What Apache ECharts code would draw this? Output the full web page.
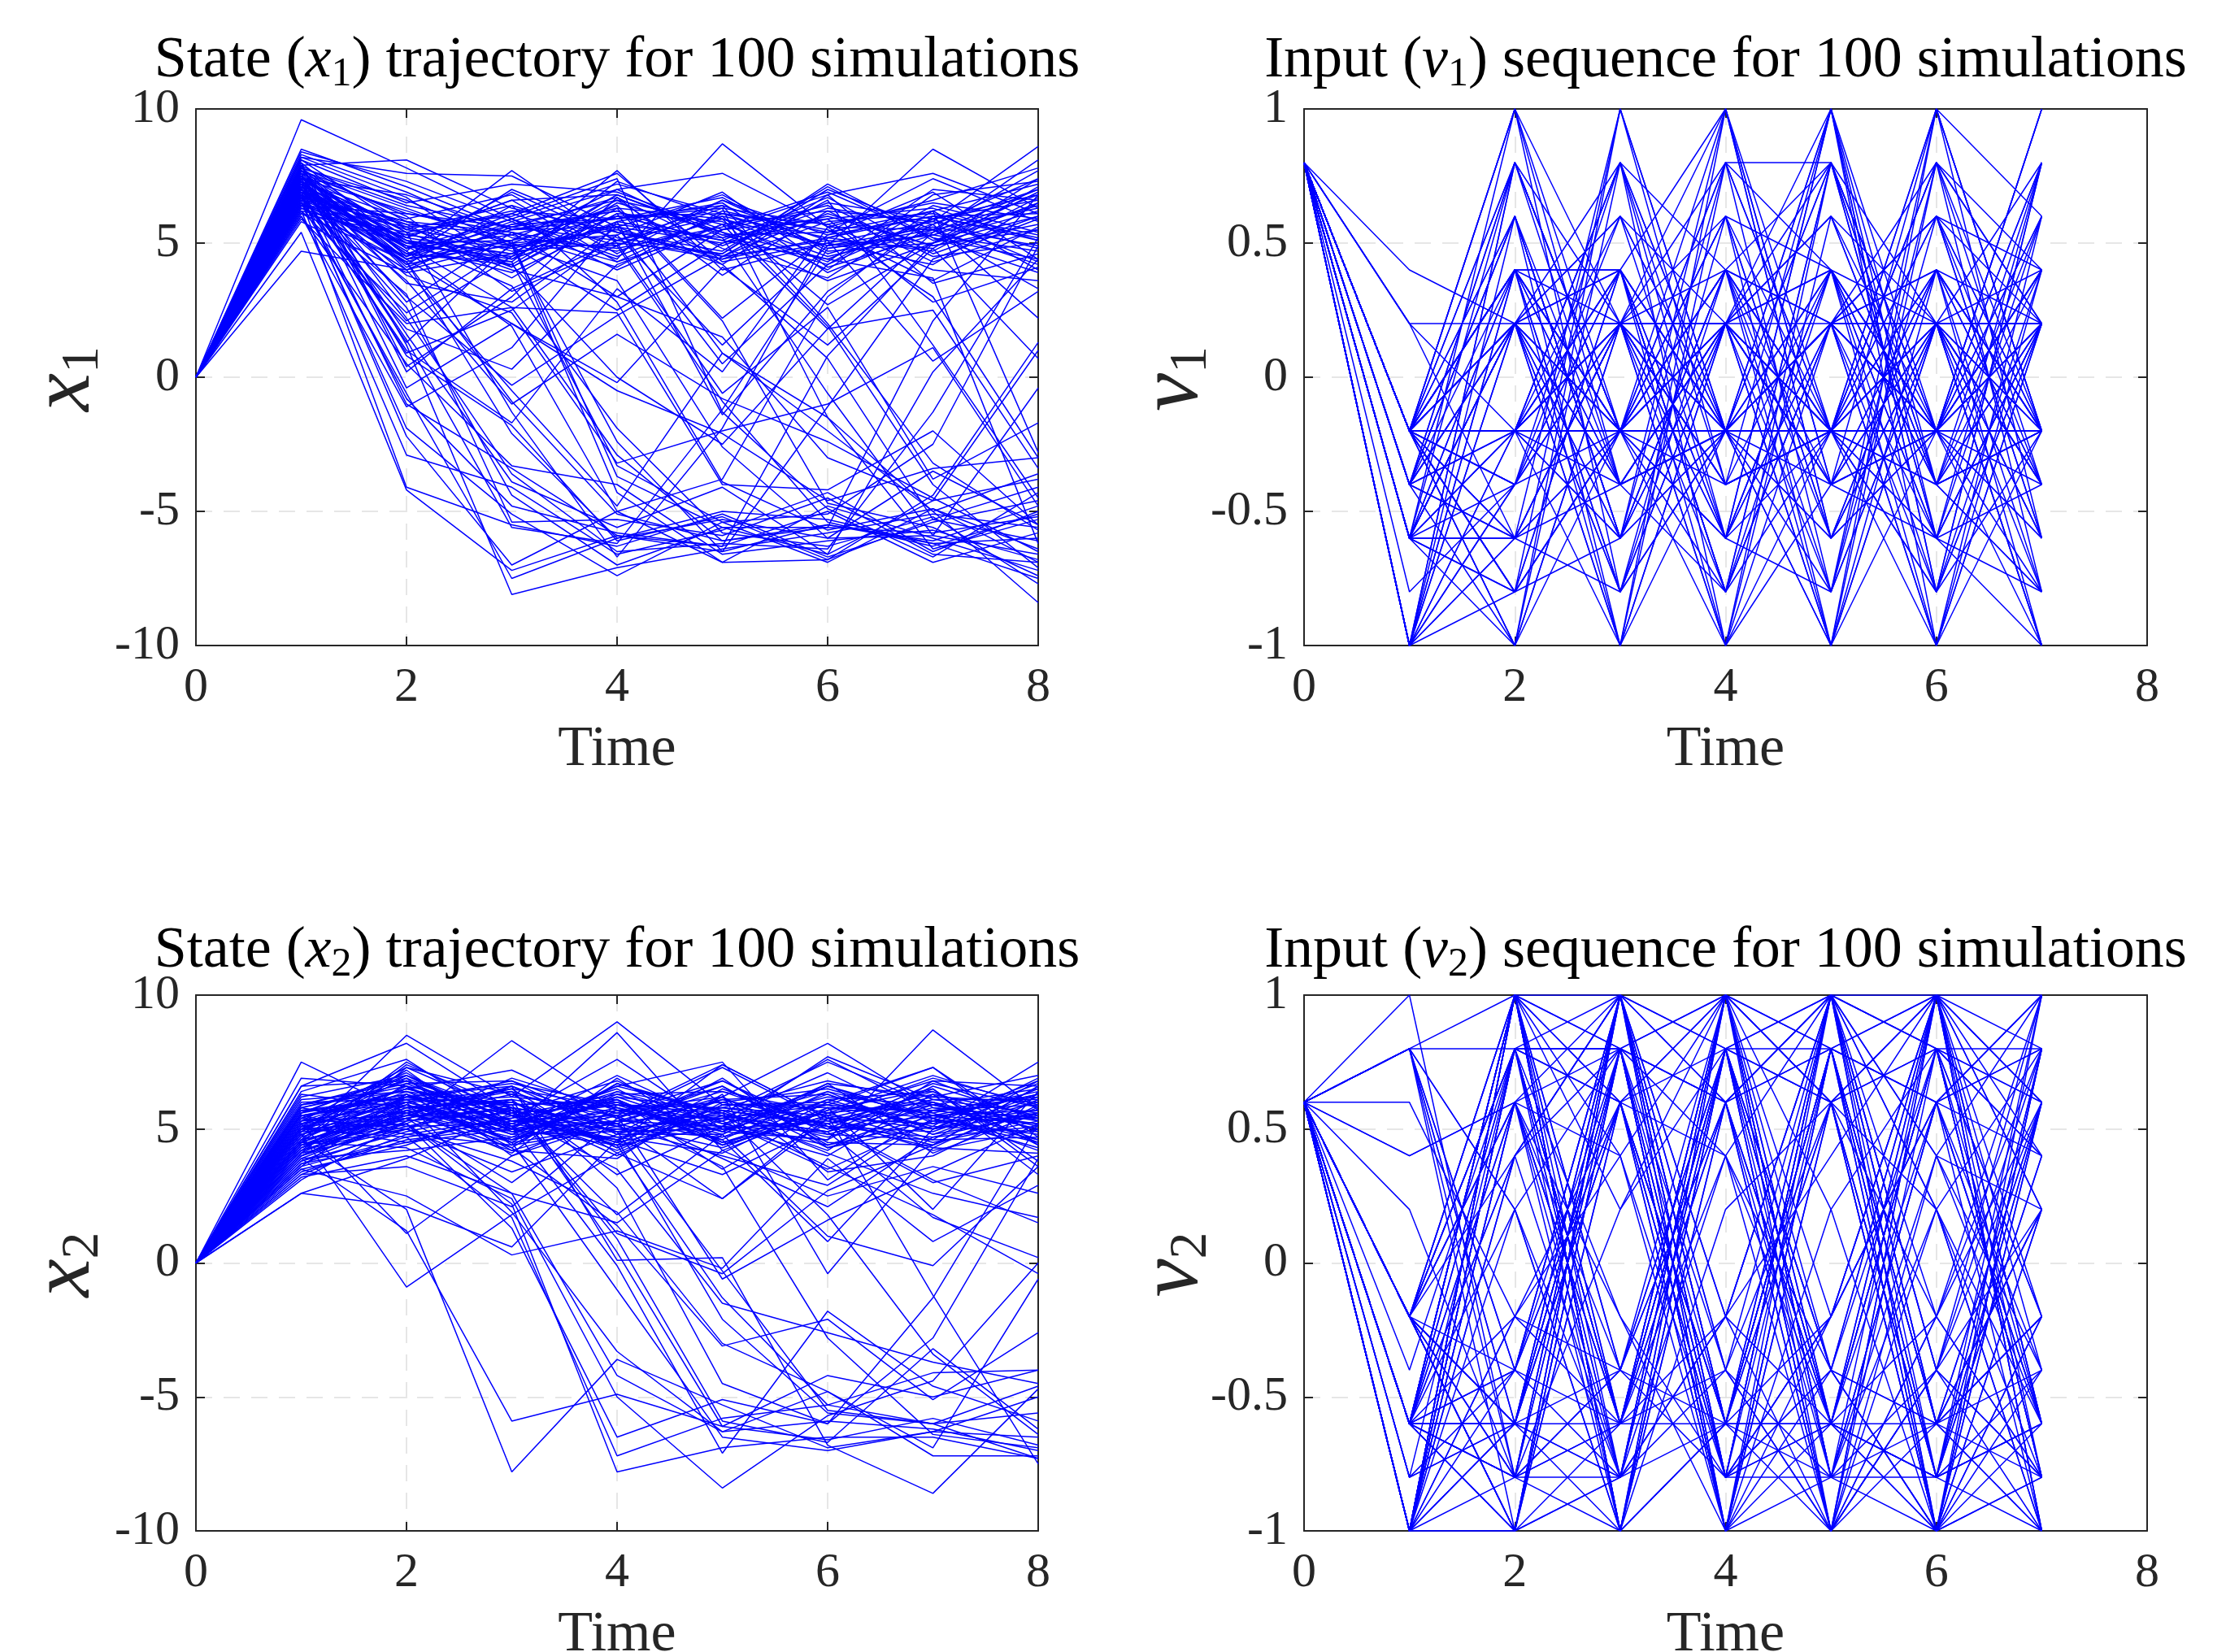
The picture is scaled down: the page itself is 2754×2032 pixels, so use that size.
<!DOCTYPE html>
<html>
<head>
<meta charset="utf-8">
<script src="https://cdn.jsdelivr.net/npm/echarts@6/dist/echarts.min.js"></script>
<style>
html,body{margin:0;padding:0;background:#fff;}
#chart{width:2754px;height:2032px;}
</style>
</head>
<body>
<div id="chart"></div>
<script>
// ---------- data ----------
const timeX = [0,1,2,3,4,5,6,7,8];
const timeNu = [0,1,2,3,4,5,6,7];
const xTicks = [0,2,4,6,8];
const stateTicks = [-10,-5,0,5,10];
const inputTicks = [-1,-0.5,0,0.5,1];

const x1Runs = [
[0,7.2,5.1,4.6,6.8,5.3,4.2,5.9,6.6],[0,6.8,4.3,5.5,5.9,6.4,5.1,4.8,7.1],[0,8.3,6.9,5.2,4.8,5.6,6.9,5.2,4.4],
[0,7.5,4.8,6.9,5.1,4.4,5.8,6.1,5.3],[0,6.4,5.6,4.1,6.3,5.9,4.5,5.4,8.1],[0,9.6,7.8,5.9,7.2,6.1,4.9,5.6,4.9],
[0,7.9,8.1,6.3,5.4,4.7,7.1,5.1,6.2],[0,6.9,4.4,5.1,7.0,5.2,6.0,4.9,5.7],[0,7.3,5.9,6.8,4.6,6.6,5.3,6.9,4.4],
[0,7.6,4.1,5.6,6.2,4.9,6.3,5.7,7.4],[0,6.1,5.3,4.8,5.6,6.8,4.7,5.0,6.9],[0,8.1,6.5,7.2,6.9,5.5,5.9,6.3,5.1],
[0,7.0,4.9,3.9,5.8,5.1,6.7,4.6,6.0],[0,6.6,5.7,5.3,4.1,6.2,5.4,7.4,5.8],[0,7.8,4.5,6.1,7.6,4.3,5.0,5.8,8.6],
[0,7.4,6.2,5.0,5.3,6.9,4.1,5.3,4.7],[0,5.8,3.9,4.6,6.6,5.7,6.2,4.3,5.5],[0,8.4,7.3,5.8,4.4,8.7,5.6,6.6,7.8],
[0,7.1,4.7,7.7,5.0,4.6,7.0,5.5,4.2],[0,6.3,5.0,4.3,7.3,5.9,4.9,8.5,6.3],[0,7.7,6.0,3.2,4.9,6.3,5.7,4.0,3.6],
[0,6.7,2.1,4.5,6.0,5.1,4.4,5.9,6.8],[0,7.2,1.3,5.0,6.4,2.2,5.3,6.0,5.2],[0,8.0,0.4,3.0,6.7,4.8,3.7,6.2,7.2],
[0,6.9,0.9,2.5,5.3,1.2,4.9,5.3,6.4],[0,7.5,2.8,5.4,3.0,5.5,6.8,3.5,4.6],[0,6.5,1.8,0.3,4.2,5.7,1.8,5.4,7.0],
[0,7.3,3.5,2.8,5.6,0.5,4.2,6.4,5.4],[0,6.2,2.4,4.9,2.5,5.0,5.9,2.8,4.1],[0,7.9,0.2,3.3,5.1,6.0,2.7,5.0,6.5],
[0,7.0,3.0,-0.3,2.3,4.5,5.1,0.6,3.2],[0,6.8,1.0,-1.7,3.3,0.2,5.6,3.0,-3.0],[0,7.6,-0.4,2.0,-0.2,4.1,1.2,4.8,0.7],
[0,6.0,-1.1,1.1,5.8,-1.4,3.2,5.7,2.2],[0,7.4,5.4,6.1,4.9,-0.9,-5.4,-6.3,-5.1],[0,7.1,4.8,5.3,6.3,2.1,-4.7,-5.6,-7.4],
[0,6.4,5.2,4.6,5.7,5.2,-0.6,-5.9,-6.6],[0,7.8,6.4,5.6,5.1,6.4,2.0,-3.2,-5.7],[0,8.5,7.1,5.5,6.2,4.5,6.6,1.2,-4.5],
[0,7.2,4.6,5.9,4.5,6.0,5.2,6.2,-2.8],[0,6.7,5.8,4.4,6.8,5.4,4.4,3.7,-6.2],[0,7.5,4.2,6.4,2.8,-3.9,-5.7,-4.9,-6.9],
[0,6.9,5.1,3.4,-1.9,-5.8,-6.3,-5.2,-7.7],[0,7.3,5.6,6.0,7.4,-1.3,-4.9,-6.7,-4.3],[0,8.2,6.7,4.1,6.1,0.9,-2.0,-5.0,-8.4],
[0,6.5,4.0,5.0,3.6,-2.6,-6.0,-3.5,-5.5],[0,7.0,5.3,6.2,5.9,6.3,-1.5,-6.4,-5.3],[0,7.7,4.5,5.7,6.6,4.2,0.7,-5.3,-6.1],
[0,6.3,4.9,2.6,-2.9,-6.1,-5.5,-6.1,-4.8],[0,7.6,6.1,5.4,4.7,5.9,1.9,-4.0,-7.1],[0,6.6,-4.1,-5.5,-6.3,-5.1,-6.7,-5.4,-4.6],
[0,5.4,-4.2,-7.2,-5.9,-6.5,-5.5,-6.2,-7.5],[0,6.2,-2.9,-4.1,-6.6,-5.7,-4.3,-6.5,-5.0],[0,6.8,-1.9,-5.1,-7.4,-5.4,-6.9,-4.9,-6.4],
[0,7.1,-1.0,-3.4,-5.9,-6.3,-5.0,-6.9,-5.8],[0,6.0,0.5,-3.3,-4.0,-6.6,-6.1,-5.7,-6.8],[0,7.4,1.6,-3.9,-5.6,-4.1,-6.6,-4.6,-3.8],
[0,6.5,-0.6,-7.5,-6.0,-5.0,-5.3,-6.2,-6.0],[0,7.9,1.2,-8.1,-7.1,-6.4,-5.8,-5.1,-5.6],[0,6.9,-2.2,-7.0,-5.0,-6.9,-4.8,-6.0,-7.2],
[0,7.3,0.8,-1.8,-6.1,-5.2,-6.8,-5.3,-4.1],[0,6.4,3.1,-5.4,-5.3,-5.9,-4.5,-6.6,-6.9],[0,7.0,2.6,-4.4,-7.0,-5.6,-5.6,-5.8,-5.2],
[0,7.2,1.4,-5.6,-6.2,-1.2,4.8,5.5,6.3],[0,6.7,-0.8,-4.8,-5.8,-6.3,0.8,5.0,7.4],[0,7.5,2.2,-3.6,-6.5,-6.2,-6.4,-1.3,5.2],
[0,6.1,4.3,-0.9,-5.1,-6.1,-5.6,2.1,6.8],[0,8.1,5.5,4.9,-2.4,-6.5,-1.1,4.4,5.9],[0,7.0,4.7,1.9,-5.0,-3.8,3.0,6.0,5.1],
[0,6.8,5.0,5.1,-3.7,-5.6,-6.6,0.2,4.4],[0,7.6,5.4,-1.3,-6.7,-1.9,5.2,4.7,6.7],[0,6.3,4.3,-2.1,-6.0,-5.3,-6.0,-5.9,-0.4],
[0,7.8,6.6,5.0,-4.3,-6.9,-6.8,-4.4,1.3],[0,7.3,4.6,4.3,-3.3,-5.4,-5.1,-2.5,4.9],[0,6.6,4.4,2.0,-0.5,-2.1,-4.6,-3.4,-3.0],
[0,7.1,3.8,2.4,-3.2,-2.0,-1.0,1.1,-4.8],[0,5.9,2.0,2.6,2.4,-4.0,-4.2,-2.0,-5.5],[0,7.9,5.8,4.7,5.0,-0.6,2.6,-3.8,-1.7],
[0,6.9,3.6,-1.0,1.6,-0.8,-2.4,-4.5,-6.5],[0,7.4,5.1,4.2,0.0,-2.5,1.8,2.5,-3.4],[0,7.7,4.0,-0.5,-4.8,0.9,-1.5,-5.0,-3.6],
[0,6.2,5.4,4.0,3.0,1.5,-3.0,-4.6,1.0],[0,7.2,4.4,4.9,5.5,4.4,5.2,6.0,6.1],[0,6.9,5.8,5.4,4.3,5.5,6.4,4.5,5.0],
[0,7.5,5.0,4.4,5.8,6.5,3.9,5.5,7.7],[0,6.4,6.1,5.6,6.7,3.8,6.2,5.8,4.8],[0,8.0,4.8,5.9,4.0,5.7,4.3,7.0,6.6],
[0,7.0,4.2,5.1,6.0,6.1,5.5,3.6,5.6],[0,6.8,5.5,6.4,5.2,4.6,7.2,5.2,3.9],[0,7.3,4.6,4.2,6.5,5.4,3.6,5.0,6.0],
[0,4.7,4.0,5.7,5.9,6.7,4.6,5.7,7.0],[0,7.8,5.2,6.6,4.3,6.1,5.7,6.5,5.9],[0,6.7,4.9,4.5,7.7,4.0,5.0,4.2,6.5],
[0,7.4,6.8,5.5,5.6,5.0,6.5,5.9,4.3],[0,7.1,5.7,3.7,6.1,5.8,4.0,6.8,7.3],[0,6.5,4.5,7.0,5.4,4.5,6.1,4.9,5.5],
[0,7.7,6.3,4.9,4.9,6.6,4.8,5.3,6.8],[0,6.6,5.2,6.6,6.8,5.3,5.4,6.2,4.0],[0,8.2,7.6,7.5,5.6,4.2,6.8,7.6,6.1],
[0,7.5,4.4,5.8,7.0,7.6,5.6,5.5,3.3]
];

const x2Runs = [
[0,4.8,6.2,5.3,5.9,4.7,6.1,5.0,5.6],[0,5.3,5.5,6.6,4.8,5.8,5.2,6.4,4.9],[0,4.1,5.9,4.6,6.3,5.2,4.4,5.7,6.2],
[0,5.9,6.8,5.0,5.3,6.4,5.6,4.5,5.3],[0,3.8,4.9,5.7,4.4,5.1,6.6,5.3,6.8],[0,7.5,5.6,4.3,6.7,5.5,4.9,6.0,5.1],
[0,4.5,7.4,5.8,5.2,4.3,5.8,5.4,4.5],[0,5.0,5.2,6.9,5.7,6.0,5.0,6.7,5.8],[0,3.4,4.6,5.1,6.0,4.9,6.3,4.8,5.5],
[0,6.1,6.4,4.8,4.9,5.6,4.7,5.9,6.5],[0,4.4,5.0,6.1,5.5,7.4,5.4,4.2,5.0],[0,5.6,7.0,5.5,4.5,5.3,7.6,5.6,4.2],
[0,4.0,5.7,4.1,6.9,4.4,5.5,6.9,5.9],[0,5.2,6.1,6.4,5.1,6.2,4.3,5.1,7.5],[0,3.1,5.3,5.6,4.2,5.9,5.9,4.6,4.7],
[0,4.7,8.5,6.2,5.8,4.6,6.4,5.5,5.2],[0,5.5,4.8,5.4,7.6,5.0,5.3,6.2,6.0],[0,6.9,6.6,4.9,5.6,6.8,4.8,5.8,5.4],
[0,4.3,5.8,6.0,4.7,4.1,6.0,7.3,4.4],[0,3.6,6.3,5.2,6.4,5.7,5.1,4.9,6.3],[0,4.9,7.2,4.4,5.0,5.4,7.1,5.2,5.7],
[0,5.8,5.1,5.9,6.1,4.5,5.7,6.5,3.8],[0,4.2,6.7,6.8,5.4,6.6,4.5,4.4,6.6],[0,5.1,4.5,5.0,7.0,5.2,6.2,5.9,5.0],
[0,2.6,3.9,5.6,4.6,6.1,5.2,6.1,6.1],[0,4.6,5.4,3.0,5.9,5.3,3.5,5.3,4.8],[0,5.4,6.5,5.7,1.8,4.8,6.7,4.1,5.6],
[0,3.9,4.2,4.7,5.2,2.4,5.4,6.3,3.3],[0,4.5,6.0,5.1,6.6,7.5,3.1,5.7,5.9],[0,5.7,5.6,6.5,4.1,5.9,5.8,2.0,6.4],
[0,4.0,5.2,2.6,1.5,4.2,2.5,3.6,2.6],[0,5.0,6.9,5.3,5.5,-0.6,1.6,3.4,5.2],[0,3.3,3.6,2.1,5.4,4.6,0.8,5.0,6.9],
[0,6.3,5.8,6.1,3.3,5.1,4.9,1.7,0.2],[0,4.6,6.3,4.2,3.9,6.3,-0.4,4.3,4.1],[0,2.6,2.1,0.6,4.6,3.3,5.2,3.1,1.5],
[0,5.2,1.1,4.0,5.7,3.9,2.1,4.7,5.6],[0,4.8,-0.9,1.8,4.1,2.4,5.6,6.0,4.5],[0,3.5,2.5,0.3,1.2,-0.2,3.9,0.8,2.9],
[0,5.9,6.4,5.9,1.1,-0.4,2.7,4.4,5.8],[0,4.4,5.7,4.9,5.8,4.8,1.0,-0.1,3.6],[0,5.3,7.3,6.3,4.3,5.5,3.6,1.8,-0.4],
[0,4.2,5.5,5.4,6.2,5.7,4.1,2.6,1.7],[0,6.0,6.1,4.5,5.1,4.0,2.9,5.4,6.3],[0,3.7,5.0,3.4,4.8,6.9,4.3,5.5,4.6],
[0,5.5,6.0,1.9,-3.3,-6.3,-5.9,-6.2,-7.0],[0,4.3,5.6,6.1,0.4,-6.1,-6.6,-5.8,-6.8],[0,6.2,7.0,5.3,4.6,-2.1,-5.6,-6.0,-4.6],
[0,4.9,5.2,2.2,-7.8,-6.9,-6.5,-6.5,-7.3],[0,3.9,1.2,-5.9,-4.9,-6.1,-4.2,-5.0,-4.0],[0,4.6,2.0,-7.8,-3.6,-5.3,-6.9,-6.3,-6.5],
[0,5.8,6.6,4.5,-1.0,-6.5,-7.0,-6.3,-5.0],[0,5.1,5.4,6.0,4.9,-0.3,-5.5,-6.0,-7.3],[0,4.0,5.8,4.6,5.5,3.6,-2.8,-6.4,-6.9],
[0,5.4,6.8,5.6,5.9,5.6,1.8,-3.4,-6.4],[0,4.7,5.9,4.8,6.1,4.4,5.5,-1.2,-7.5],[0,3.6,4.7,1.7,-7.2,-5.8,-5.3,-6.0,-5.6],
[0,5.0,5.3,5.8,0.9,-5.9,-6.7,-3.2,-6.2],[0,6.4,7.6,5.1,-0.1,-7.1,-1.8,-4.6,-5.9],[0,4.5,4.3,2.4,-5.0,-8.4,-5.7,-4.4,0.0],
[0,5.7,6.2,6.6,0.1,0.2,-6.8,-8.6,-4.7],[0,4.1,5.0,3.8,1.9,-3.0,-4.8,-7.2,-7.2],[0,5.2,6.5,5.5,3.5,-1.5,-2.6,-3.7,-4.5],
[0,3.2,4.0,2.6,-4.2,-6.3,-4.8,-6.9,-0.6],[0,4.8,5.7,6.4,2.8,-4.5,-6.0,-1.3,5.2],[0,5.6,6.3,4.3,1.4,-3.1,-2.1,-5.1,-2.6],
[0,4.4,5.2,1.3,-6.5,-5.1,-6.0,-2.8,3.9],[0,5.1,6.0,5.0,4.4,-1.3,-5.3,-4.1,-4.0],[0,4.9,6.6,5.8,5.1,6.1,6.3,5.0,6.0],
[0,5.2,5.6,4.7,6.2,4.9,4.6,6.6,5.4],[0,3.9,5.4,6.3,5.6,5.4,5.9,5.6,6.4],[0,4.6,7.5,5.5,4.4,6.5,5.1,4.7,5.1],
[0,5.5,6.2,6.7,5.9,5.8,6.8,6.0,4.6],[0,4.2,5.1,5.2,6.5,4.5,5.4,5.2,6.7],[0,5.9,6.9,4.0,5.3,5.1,4.0,6.3,5.5],
[0,3.5,4.4,5.8,4.0,6.0,6.5,5.4,4.3],[0,4.4,5.9,5.0,8.6,4.2,5.7,7.0,5.8],[0,5.3,6.5,7.2,5.4,7.3,5.3,4.3,6.1],
[0,4.0,5.6,4.5,6.7,5.6,7.5,5.9,5.3],[0,6.6,8.2,5.7,4.9,5.0,4.6,8.7,5.7],[0,4.7,6.0,6.2,9.0,5.9,6.0,5.1,4.9],
[0,5.0,4.7,5.3,5.0,4.7,5.6,6.8,6.6],[0,3.8,5.3,8.3,5.7,6.2,8.2,5.8,5.4],[0,5.6,7.1,4.9,4.7,5.4,4.8,4.6,6.8],
[0,4.3,6.2,5.9,6.0,4.4,6.1,6.4,4.4],[0,5.4,5.0,6.6,5.2,6.8,5.0,5.5,5.7],[0,3.3,4.8,4.4,6.4,5.3,6.4,4.8,6.2],
[0,5.8,6.7,5.2,4.6,5.7,5.2,5.9,5.0],[0,4.5,5.8,6.5,5.8,4.9,6.7,6.2,7.0],[0,5.0,6.4,5.3,5.2,6.6,4.4,5.3,5.4],
[0,4.1,7.3,5.6,6.8,5.0,5.9,7.3,4.7],[0,5.3,5.9,4.6,5.5,5.8,5.5,5.0,6.5],[0,4.8,6.1,6.0,4.3,6.2,3.4,4.0,5.9],
[0,6.6,6.8,5.1,6.1,3.5,5.8,5.7,5.2],[0,4.2,5.4,4.2,5.3,5.5,4.9,6.5,3.6],[0,5.7,6.0,6.8,4.8,4.8,6.6,5.5,6.3],
[0,3.7,4.5,5.5,6.3,6.4,5.1,3.0,4.0],[0,5.1,7.0,5.0,5.7,5.1,7.7,6.1,5.6],[0,4.6,5.5,5.7,4.5,7.4,5.4,4.4,6.6],
[0,5.5,6.3,4.8,6.6,5.6,4.2,6.8,5.3]
];

const nu1Runs = [
[.8,-.2,-.2,.4,-.2,1,-1,.2],[.8,-.2,.4,.4,-.8,-.2,.2,.2],[.8,-.6,.2,-1,1,-.4,-.2,.8],[.8,-.2,-.2,-.2,.2,.8,-.6,-.4],
[.8,-1,.8,-.4,-.2,-1,1,-.2],[.8,-.4,-1,.8,-.6,.4,-.2,-1],[.8,-.2,.2,.2,.2,-.2,.6,.2],[.8,-.6,-.6,-.2,.4,-.8,.2,-.8],
[.8,-.2,-.8,1,-.2,.2,-1,.6],[.8,-1,.6,-.6,.8,-.2,-.4,-.2],[.8,.2,-.2,.2,-1,.8,.2,-.6],[.8,-.2,.4,-.8,-.2,.2,-.2,1],
[.8,-.4,-.2,-.2,-.2,-.2,-.2,-.2],[.8,-.6,.2,.4,-.6,1,-.8,.4],[.8,-.2,-.6,.2,1,-.6,.4,-.8],[.8,-1,-.2,-1,.2,-.2,.8,-.2],
[.8,-.2,1,-.2,-.8,.4,-.4,.2],[.8,-.4,.4,-.4,.2,-.4,.2,-1],[.8,-.2,-.2,.8,-.4,-.2,-.6,.8],[.8,-.6,-.4,-.2,.6,-1,.4,-.4],
[.8,.4,.2,-.6,-.2,.2,-.2,.2],[.8,-.2,.8,.2,-1,-.2,1,-.6],[.8,-.2,-1,-.2,.4,.8,-.2,.2],[.8,-1,.2,-.4,-.2,.4,-.6,.6],
[.8,-.6,-.8,.4,-.8,.2,.6,-.2],[.8,-.2,.2,-.2,.8,-.8,.2,-.4],[.8,-.4,.6,-1,-.2,.2,-1,.4],[.8,-.2,-.4,.4,-.2,-.6,.2,-.2],
[.8,.2,-.6,-.2,.2,1,-.4,-.8],[.8,-.2,.2,-.8,.4,-.2,.8,.2],[.8,-1,-.6,.2,-.4,.4,-.2,1],[.8,-.6,.4,.2,-.6,-.2,.4,-.2],
[.8,-.2,-.2,-.6,1,-.4,-.2,-.6],[.8,-.4,.2,.6,-.2,.2,-.8,.2],[.8,-.2,-1,.2,.2,-.2,.2,-.4],[.8,-.6,.8,-.2,-.2,.8,-.4,.8],
[.8,-.2,-.2,.4,-.6,.4,-.6,-1],[.8,-1,.4,-.2,.2,-1,.2,.2],[.8,-.2,.2,-.4,.2,.2,.2,.2],[.8,-.4,-.6,1,-.4,-.2,.6,-.2],
[.8,-.2,.6,-.6,.4,-.6,-.2,.4],[.8,-.6,-.2,.8,-1,.6,-.4,-.8],[.8,-.2,.4,-.2,.6,-.2,1,-.2],[.8,-1,-.2,.2,-.2,.2,-.2,.6],
[.8,-.2,-.8,-.6,.2,-.4,.4,-.4],[.8,-.4,.2,.2,-.8,.8,-.6,.2],[.8,-.6,1,-.8,.2,-.2,-.2,-.6],[.8,-.2,-.2,.2,-.2,-.8,.8,.4],
[.8,-.2,.4,-1,.8,.4,-1,-.2],[.8,-1,-.4,.6,-.6,.2,.2,.8],[.8,-.2,.2,-.2,-.2,1,-.2,-.4],[.8,-.6,-.6,.2,.4,-.4,.4,.2],
[.8,-.4,.8,-.2,-.4,-.2,-.8,-.2],[.8,-.2,-.2,-.6,.2,.6,-.2,.4],[.8,-.2,.2,.8,-.2,-.6,.2,-1],[.8,-1,-.8,-.2,1,-.2,-.4,.2],
[.8,-.6,.4,-.4,-.8,.2,.6,-.6],[.8,-.2,-.4,.2,.2,-1,-.2,.8],[.8,.2,.2,-.2,-.6,.4,.2,-.2],[.8,-.2,-1,1,-.2,.2,-.6,.2],
[.8,-.4,.6,-.6,.4,-.2,.2,-.4],[.8,-.2,-.2,-.2,-.2,.8,-.4,.6],[.8,-.6,.2,.4,-1,-.4,1,-.2],[.8,-.2,.8,-.2,.2,-.2,-.2,-.8],
[.8,-1,-.6,.2,-.4,1,-.8,.2],[.8,-.2,.4,-.8,.6,-.6,.4,-.2],[.8,-.2,-.2,.6,-.2,.2,-.2,1],[.8,-.6,-.8,-.2,.8,-.2,.2,-.6],
[.8,-.4,.2,.2,-.6,-.8,.6,.4],[.8,-.2,-.6,-.4,.2,.4,-.2,-.2],[.8,-.2,1,.2,-.2,-.2,-1,.2],[.8,-1,.2,-.6,.4,.2,.8,-.4],
[.8,-.6,-.2,.4,-.8,.8,-.2,.6],[.8,-.2,.4,-.2,.2,-.4,.2,-.2],[.8,-.8,-.4,.8,-.2,-.2,-.6,.2],[.8,-.2,-.2,-.2,.4,.2,.4,-1],
[.8,-.4,.6,-.4,-.2,-1,.2,.4],[.8,-.6,-1,.2,.6,.4,-.4,-.2],[.8,-.2,.2,-.8,-.2,.2,.6,-.6],[.8,-.2,-.8,.4,1,-.6,-.2,.2],
[.8,-1,.8,-.2,-.6,.2,-.2,-.2],[.8,-.6,-.2,.2,.2,-.2,-.8,.8],[.8,-.2,.2,-1,.2,.6,.2,-.4],[.8,-.4,-.6,.2,-.4,-.2,.8,.2],
[.8,-.2,.4,.4,-.2,-.4,-.6,-.8],[.8,-.2,-.2,.2,.8,.8,-.2,.4],[.8,-.6,.2,-.2,-1,.2,.4,-.2],[.8,-1,-.4,.2,.2,-.8,1,.6],
[.8,-.2,.6,-.6,-.2,.4,-.4,-.2],[.8,-.4,-.2,.8,.4,-.2,.2,-1],[.8,-.2,-.8,-.2,-.6,1,-.6,.2],[.8,-.6,.2,.6,.2,-.4,-.2,.4],
[.8,-.2,1,-.4,-.2,.2,.6,-.4],[.8,-.2,-.2,.2,-.2,-.2,-.2,.2],[.8,-1,.4,-.2,.6,-.6,.2,-.6],[.8,-.2,-.6,-.8,.2,.4,-.8,.8],
[.8,-.6,.2,.2,-.4,-.2,.4,-.2],[.8,-.2,-.4,.4,-.8,.2,-.2,.2],[.8,-.4,.8,-.2,.4,-1,.8,-.8],[.8,-.2,-.2,-.4,.2,.6,-.4,.4]
];

const nu2Runs = [
[.6,-.6,1,-1,.8,-.6,1,-.8],[.6,-.2,-.8,1,-.6,1,-1,.6],[.6,-1,.8,-.6,1,-1,.8,-.2],[.6,.8,-.6,.8,-1,.6,-.8,1],
[.6,-.6,-1,1,-.8,1,-.6,.2],[.6,-.2,.6,-.8,.8,-.4,1,-.6],[.6,-1,1,-.4,-.6,.8,-1,.8],[.6,-.6,-.4,.8,1,-.8,.6,-1],
[.6,.8,.8,-1,.6,-.6,-.8,.4],[.6,-.2,-.6,1,-.2,1,-.4,-.8],[.6,-1,-1,.6,-1,.8,1,-.6],[.6,-.6,1,-.6,.8,-1,-.2,1],
[.6,1,-.8,-.8,1,.2,-1,.6],[.6,-.2,.4,1,-.8,-.6,.8,-.6],[.6,-.6,-.6,-1,.6,1,-.6,-.2],[.6,-1,.8,.8,-.4,-.8,.2,.8],
[.6,.6,-.2,-.6,1,.6,-.8,-1],[.6,-.6,1,.4,-.8,-.2,1,.2],[.6,-.2,-1,.8,.6,-1,-.4,1],[.6,-1,.2,-.8,-.2,1,.8,-.8],
[.6,.8,-.4,1,-1,.8,-.6,.6],[.6,-.6,.8,-.6,.8,-.6,-1,-.4],[.6,-.2,-.6,.6,-.6,.8,.6,-.6],[.6,-1,1,-1,1,-.8,-.8,.4],
[.6,-.6,-.8,.8,.4,-.4,1,-1],[.6,.4,.6,-.2,-.8,1,-.2,.8],[.6,-.2,-1,1,-.6,-.6,.8,-.2],[.6,-1,.4,-.8,.8,.6,-1,.2],
[.6,-.6,1,.8,-1,-.8,.4,1],[.6,-.8,-.6,-.4,.6,1,-.6,-.8],[.6,.2,-.8,1,-.2,-1,1,-.6],[.6,-.2,.8,-.6,1,.8,-.8,.6],
[.6,-1,-.4,.6,-.6,-.2,.6,-.4],[.6,-.6,.2,-1,.8,-.6,-1,.8],[.6,.8,-1,.8,-.8,1,.2,-.8],[.6,-.6,.6,.4,1,-.4,-.6,.2],
[.6,-.2,-.6,-.8,-.4,.6,1,-1],[.6,-1,1,.6,-.6,-1,-.2,.6],[.6,-.6,-.8,-.6,.8,.8,-.8,-.6],[.6,-.2,.8,1,-1,-.6,.8,.4],
[.6,-1,-.2,-.4,.6,1,-.4,-.8],[.6,.8,-.6,.8,-.8,-.8,1,1],[.6,-.6,1,-1,.2,.6,-1,-.2],[.6,-.2,-1,.6,1,-.2,.6,-.6],
[.6,-1,.6,-.6,-.6,.8,-.8,.8],[.6,-.6,-.4,1,.8,-1,.2,-1],[.6,-.8,.8,-.2,-1,.6,1,.6],[.6,-.2,-.8,.8,.6,-.6,-.6,-.4],
[.6,-1,1,-.8,-.2,1,.8,-.8],[.6,-.6,-.6,.6,.8,-.4,-1,.2],[.6,.8,.2,-1,-.6,.8,.6,1],[.6,-.2,1,.8,-.8,-.6,-.8,-.6],
[.6,-1,-.8,-.4,1,.6,1,-.2],[.6,-.6,.4,1,-.4,-1,-.4,.8],[.6,-.2,-.6,-.6,.6,.8,-.6,-1],[.6,-1,.8,.8,-1,.2,.8,.6],
[.6,-.6,-1,-.8,.8,-.8,-1,-.8],[.6,.4,.6,1,-.6,1,.4,-.4],[.6,-.2,-.4,-.6,.4,-.6,1,.8],[.6,-1,1,.6,-.8,-.4,-.6,.2],
[.6,-.6,-.8,1,.6,1,-.8,-.6],[.6,-.2,.6,-1,1,-.8,.6,1],[.6,-1,-.6,.8,-.6,.6,-.2,-.8],[.6,.8,1,-.6,.8,-1,1,.4],
[.6,-.6,-.2,.4,-1,.8,-1,-.2],[.6,-.2,.8,-.8,-.2,-.6,.8,.6],[.6,-1,-1,1,.8,1,-.4,-1],[.6,-.6,.6,-.4,-.8,-.2,.6,.8],
[.6,-.8,-.6,.6,1,-.6,-.8,-.6],[.6,-.2,1,-1,-.6,.8,1,.2],[.6,-1,.4,.8,.6,-1,-.6,.6],[.6,-.6,-.8,-.6,1,.6,.8,-.8],
[.6,.8,-.4,1,-.8,-.4,-1,.8],[.6,-.2,.8,.6,.4,1,.2,-.6],[.6,-1,-.6,-.8,-.6,-.8,.6,1],[.6,-.6,1,.2,.8,.6,-.8,-.4],
[.6,-.2,-1,.8,-1,-.2,1,.6],[.6,-1,.6,-.6,.6,.8,-.6,-1],[.6,-.6,-.6,1,-.4,-1,.4,.2],[.6,-.4,.8,-.8,1,.6,-1,-.6],
[.6,-.6,-.4,.6,-.8,1,.8,.8],[.6,-1,1,-.4,.8,-.6,-.2,-.8],[.6,-.2,-.8,-1,-.6,.8,.6,.4],[.6,.8,.2,.8,1,-.8,-.6,-.2],
[.6,-.6,.8,-.6,-.2,.4,1,-1],[.6,-1,-.6,1,.6,-.6,-.8,.6],[.6,-.2,.6,.8,-1,1,.4,-.6],[.6,-.6,-1,-.6,.8,-.4,-1,1],
[.6,-1,.8,.6,-.6,.6,.8,-.8],[.6,-.8,-.4,-.8,.4,-1,-.4,.2],[.6,-.2,1,1,-.8,.8,.6,-.6],[.6,-.6,-.8,.2,1,-.6,-.8,.8],
[.6,-1,.6,-.6,-.4,1,1,-.4],[.6,-.2,-.6,.8,.6,-.8,-.4,.6],[.6,-.6,1,-1,.8,.6,.2,-1],[.6,-1,-.2,.6,-1,-.4,.8,.4],
[.6,.8,-.8,-.4,.8,1,-1,-.8],[.6,-.6,.4,1,-.6,-.6,.6,.8],[.6,-.2,-1,-.8,1,.8,-.6,-.2],[.6,-1,.8,.6,-.8,-.2,1,.6]
];

const panelTitles = [
  {pre:'State (', sym:'x', sub:'1', post:') trajectory for 100 simulations'},
  {pre:'Input (', sym:'\u03BD', sub:'1', post:') sequence for 100 simulations'},
  {pre:'State (', sym:'x', sub:'2', post:') trajectory for 100 simulations'},
  {pre:'Input (', sym:'\u03BD', sub:'2', post:') sequence for 100 simulations'}
];
const yNames = [{sym:'x',sub:'1'},{sym:'\u03BD',sub:'1'},{sym:'x',sub:'2'},{sym:'\u03BD',sub:'2'}];
const xName = 'Time';

// ---------- layout ----------
const FONT = '"Liberation Serif", "Times New Roman", serif';
const INK = '#262626';
const grids = [
  {left:241, top:134, width:1036, height:660},
  {left:1604, top:134, width:1037, height:660},
  {left:241, top:1224, width:1036, height:659},
  {left:1604, top:1224, width:1037, height:659}
];
const titleY = [75, 75, 1170, 1170];
const runsByPanel = [x1Runs, nu1Runs, x2Runs, nu2Runs];
const timeByPanel = [timeX, timeNu, timeX, timeNu];
const yTicksByPanel = [stateTicks, inputTicks, stateTicks, inputTicks];

const axisLineStyle = {color: INK, width: 2};
const xAxes = [], yAxes = [], series = [], graphics = [];

grids.forEach((g, p) => {
  const yt = yTicksByPanel[p];
  const yMin = yt[0], yMax = yt[yt.length-1], yInt = yt[1]-yt[0];
  const xMin = xTicks[0], xMax = xTicks[xTicks.length-1], xInt = xTicks[1]-xTicks[0];
  xAxes.push({
    gridIndex:p, type:'value', position:'bottom', min:xMin, max:xMax, interval:xInt,
    axisLine:{show:true, onZero:false, lineStyle:axisLineStyle},
    axisTick:{show:true, inside:true, length:11, lineStyle:axisLineStyle},
    axisLabel:{show:true, margin:22, fontFamily:FONT, fontSize:60, color:INK},
    splitLine:{show:true, lineStyle:{color:'#dedede', width:1.5, type:[20,14]}}
  });
  xAxes.push({
    gridIndex:p, type:'value', position:'top', min:xMin, max:xMax, interval:xInt,
    axisLine:{show:true, onZero:false, lineStyle:axisLineStyle},
    axisTick:{show:true, inside:true, length:11, lineStyle:axisLineStyle},
    axisLabel:{show:false}, splitLine:{show:false}
  });
  yAxes.push({
    gridIndex:p, type:'value', position:'left', min:yMin, max:yMax, interval:yInt,
    axisLine:{show:true, onZero:false, lineStyle:axisLineStyle},
    axisTick:{show:true, inside:true, length:11, lineStyle:axisLineStyle},
    axisLabel:{show:true, margin:20, fontFamily:FONT, fontSize:60, color:INK},
    splitLine:{show:true, lineStyle:{color:'#dedede', width:1.5, type:[20,14]}}
  });
  yAxes.push({
    gridIndex:p, type:'value', position:'right', min:yMin, max:yMax, interval:yInt,
    axisLine:{show:true, onZero:false, lineStyle:axisLineStyle},
    axisTick:{show:true, inside:true, length:11, lineStyle:axisLineStyle},
    axisLabel:{show:false}, splitLine:{show:false}
  });
  const t = timeByPanel[p];
  runsByPanel[p].forEach(run => {
    series.push({
      type:'line', xAxisIndex:2*p, yAxisIndex:2*p, silent:true,
      symbol:'none', animation:false, z:1,
      lineStyle:{color:'#0000ff', width:1.5},
      data: run.map((v,i)=>[t[i], v])
    });
  });

  const cx = g.left + g.width/2;
  // title
  const pt = panelTitles[p];
  graphics.push({
    type:'text', x:cx, y:titleY[p], z:10,
    style:{
      text:'{r|'+pt.pre+'}{i|'+pt.sym+'}{s|'+pt.sub+'}{r|'+pt.post+'}',
      align:'center', verticalAlign:'middle', fill:'#000',
      rich:{
        r:{fontFamily:FONT, fontSize:72, lineHeight:84, fill:'#000'},
        i:{fontFamily:FONT, fontSize:72, fontStyle:'italic', lineHeight:84, fill:'#000'},
        s:{fontFamily:FONT, fontSize:50, lineHeight:52, verticalAlign:'bottom', fill:'#000'}
      }
    }
  });
  // x axis name
  graphics.push({
    type:'text', x:cx, y:g.top+g.height+129, z:10,
    style:{text:xName, align:'center', verticalAlign:'middle', fontFamily:FONT, fontSize:70, fill:INK}
  });
  // y axis name (rotated)
  const yn = yNames[p];
  graphics.push({
    type:'text', x:g.left-160, y:g.top+g.height/2+2, rotation:Math.PI/2, z:10,
    style:{
      text:'{i|'+yn.sym+'}{s|'+yn.sub+'}',
      align:'center', verticalAlign:'middle', fill:INK,
      rich:{
        i:{fontFamily:FONT, fontSize:106, fontStyle:'italic', lineHeight:110, fill:INK},
        s:{fontFamily:FONT, fontSize:66, lineHeight:66, verticalAlign:'bottom', fill:INK}
      }
    }
  });
});

const chart = echarts.init(document.getElementById('chart'), null, {renderer:'canvas'});
chart.setOption({
  animation:false,
  backgroundColor:'#ffffff',
  grid: grids.map(g => Object.assign({containLabel:false}, g)),
  xAxis: xAxes,
  yAxis: yAxes,
  series: series,
  graphic: graphics
});
</script>
</body>
</html>
